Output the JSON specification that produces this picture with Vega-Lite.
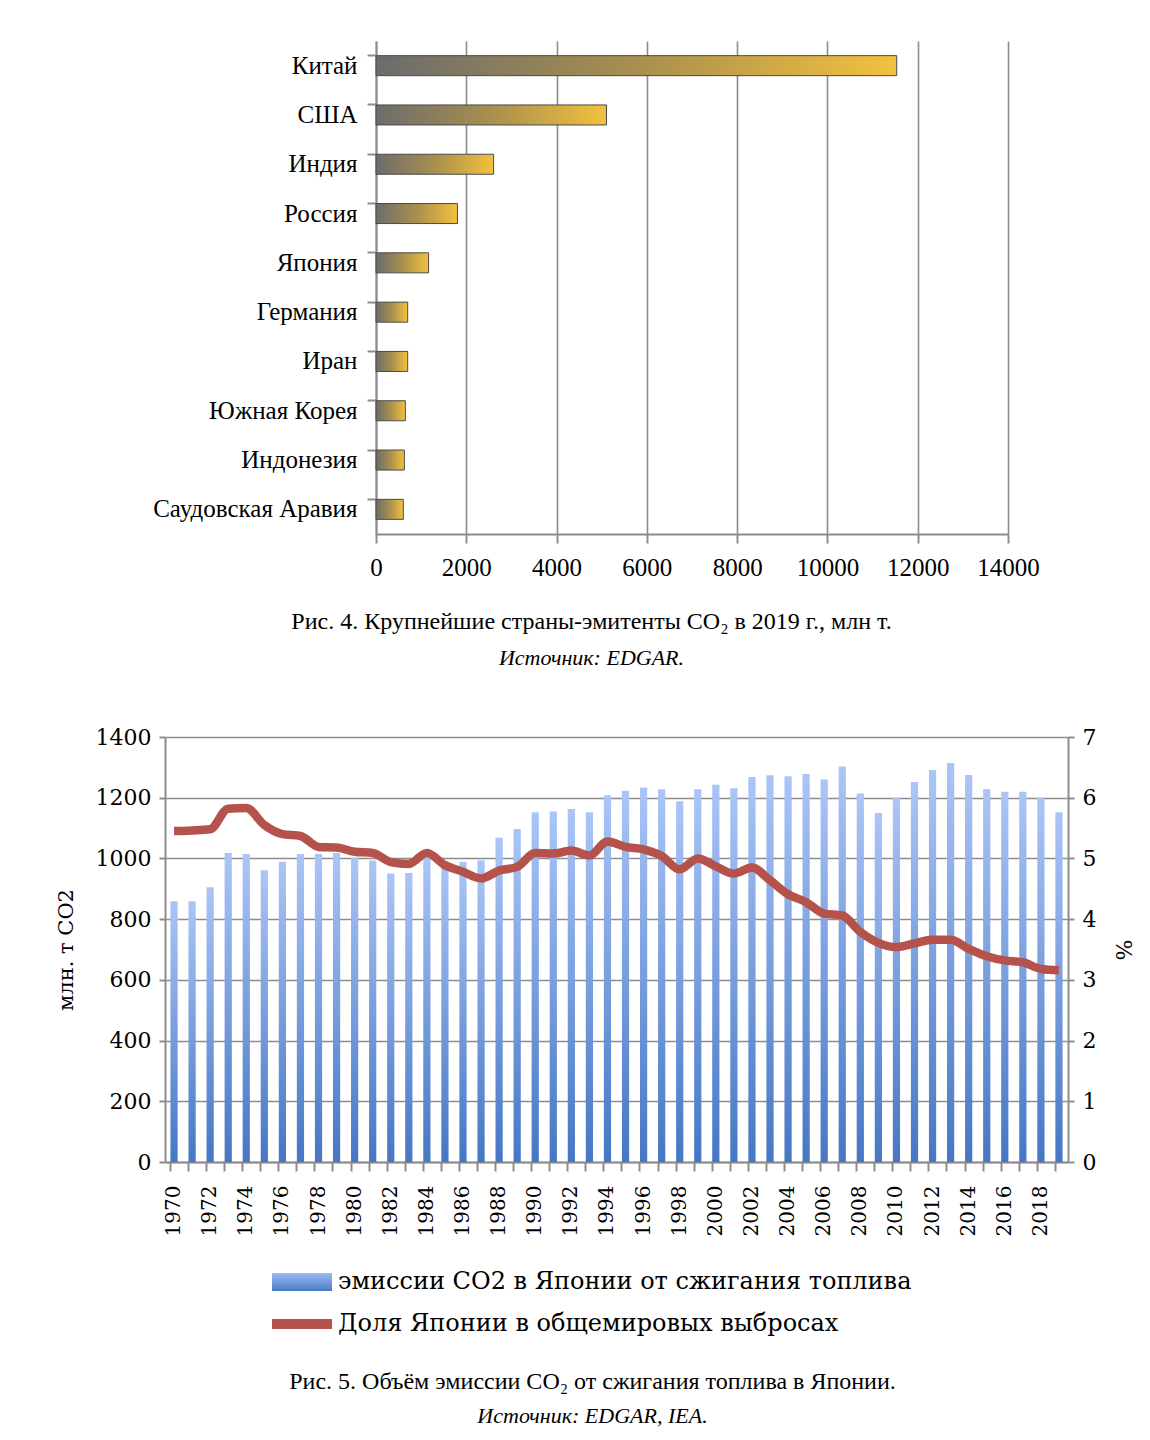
{
  "$schema": "https://vega.github.io/schema/vega-lite/v6.json",
  "background": "white",
  "padding": {"left": 55, "top": 41, "right": 0, "bottom": 0},
  "config": {
    "font": "Liberation Serif",
    "view": {"stroke": null},
    "axis": {"labelColor": "black", "titleColor": "black", "domainColor": "#8c8c8c", "tickColor": "#8c8c8c", "gridColor": "#8c8c8c", "domainWidth": 2, "tickWidth": 2, "gridWidth": 1.6, "titleFontWeight": "normal"}
  },
  "spacing": 57,
  "resolve": {"scale": {"color": "independent"}, "legend": {"color": "independent"}},
  "vconcat": [
    {
      "width": 843,
      "height": 493,
      "data": {"values": [
        {"country": "Китай", "value": 11535},
        {"country": "США", "value": 5105},
        {"country": "Индия", "value": 2605},
        {"country": "Россия", "value": 1805},
        {"country": "Япония", "value": 1165},
        {"country": "Германия", "value": 702},
        {"country": "Иран", "value": 702},
        {"country": "Южная Корея", "value": 650},
        {"country": "Индонезия", "value": 628},
        {"country": "Саудовская Аравия", "value": 605}
      ]},
      "mark": {
        "type": "bar",
        "fill": {"gradient": "linear", "x1": 0, "y1": 0, "x2": 1, "y2": 0, "stops": [{"offset": 0, "color": "#6c6c6c"}, {"offset": 0.5, "color": "#a88f4e"}, {"offset": 1, "color": "#f3c13e"}]},
        "stroke": "#4a4a4a",
        "strokeWidth": 1
      },
      "encoding": {
        "y": {
          "field": "country", "type": "nominal", "sort": null,
          "scale": {"paddingInner": 0.594, "paddingOuter": 0.297},
          "axis": {"title": null, "bandPosition": 0, "offset": -211, "tickSize": 9, "labelFontSize": 25, "labelPadding": 10, "labelLimit": 400, "grid": false, "labelFont": "Liberation Serif"}
        },
        "x": {
          "field": "value", "type": "quantitative",
          "scale": {"domain": [0, 14000], "nice": false, "range": [211, 843]},
          "axis": {"title": null, "values": [0, 2000, 4000, 6000, 8000, 10000, 12000, 14000], "grid": true, "tickSize": 9, "labelFontSize": 25, "labelPadding": 12, "format": "d", "labelFont": "Liberation Serif", "labelFlush": false}
        }
      },
      "title": {
        "text": "Рис. 4. Крупнейшие страны-эмитенты CO₂ в 2019 г., млн т.",
        "subtitle": "Источник: EDGAR.",
        "orient": "bottom",
        "anchor": "middle",
        "dx": 5,
        "offset": 30,
        "font": "Liberation Serif",
        "fontSize": 24,
        "fontWeight": "normal",
        "color": "black",
        "subtitleFont": "Liberation Serif",
        "subtitleFontSize": 22,
        "subtitleFontStyle": "italic",
        "subtitleColor": "black",
        "subtitlePadding": 14
      }
    },
    {
      "width": 903,
      "height": 425,
      "data": {"values": [
        {"year": "1970", "emissions": 859, "share": 5.45},
        {"year": "1971", "emissions": 859, "share": 5.46},
        {"year": "1972", "emissions": 905, "share": 5.48},
        {"year": "1973", "emissions": 1018, "share": 5.82},
        {"year": "1974", "emissions": 1015, "share": 5.83},
        {"year": "1975", "emissions": 961, "share": 5.55},
        {"year": "1976", "emissions": 989, "share": 5.40},
        {"year": "1977", "emissions": 1015, "share": 5.37},
        {"year": "1978", "emissions": 1015, "share": 5.19},
        {"year": "1979", "emissions": 1018, "share": 5.18},
        {"year": "1980", "emissions": 1002, "share": 5.11},
        {"year": "1981", "emissions": 993, "share": 5.09},
        {"year": "1982", "emissions": 950, "share": 4.94},
        {"year": "1983", "emissions": 952, "share": 4.91},
        {"year": "1984", "emissions": 1005, "share": 5.09},
        {"year": "1985", "emissions": 985, "share": 4.89},
        {"year": "1986", "emissions": 989, "share": 4.78},
        {"year": "1987", "emissions": 994, "share": 4.67},
        {"year": "1988", "emissions": 1068, "share": 4.80},
        {"year": "1989", "emissions": 1097, "share": 4.86},
        {"year": "1990", "emissions": 1152, "share": 5.09},
        {"year": "1991", "emissions": 1155, "share": 5.08},
        {"year": "1992", "emissions": 1163, "share": 5.13},
        {"year": "1993", "emissions": 1152, "share": 5.05},
        {"year": "1994", "emissions": 1208, "share": 5.28},
        {"year": "1995", "emissions": 1223, "share": 5.19},
        {"year": "1996", "emissions": 1234, "share": 5.15},
        {"year": "1997", "emissions": 1228, "share": 5.04},
        {"year": "1998", "emissions": 1188, "share": 4.82},
        {"year": "1999", "emissions": 1228, "share": 5.00},
        {"year": "2000", "emissions": 1243, "share": 4.87},
        {"year": "2001", "emissions": 1231, "share": 4.75},
        {"year": "2002", "emissions": 1268, "share": 4.85},
        {"year": "2003", "emissions": 1274, "share": 4.64},
        {"year": "2004", "emissions": 1271, "share": 4.41},
        {"year": "2005", "emissions": 1278, "share": 4.28},
        {"year": "2006", "emissions": 1260, "share": 4.09},
        {"year": "2007", "emissions": 1303, "share": 4.06},
        {"year": "2008", "emissions": 1214, "share": 3.79},
        {"year": "2009", "emissions": 1150, "share": 3.61},
        {"year": "2010", "emissions": 1200, "share": 3.54},
        {"year": "2011", "emissions": 1252, "share": 3.60},
        {"year": "2012", "emissions": 1291, "share": 3.66},
        {"year": "2013", "emissions": 1314, "share": 3.66},
        {"year": "2014", "emissions": 1275, "share": 3.51},
        {"year": "2015", "emissions": 1229, "share": 3.39},
        {"year": "2016", "emissions": 1220, "share": 3.32},
        {"year": "2017", "emissions": 1220, "share": 3.29},
        {"year": "2018", "emissions": 1200, "share": 3.18},
        {"year": "2019", "emissions": 1152, "share": 3.16}
      ]},
      "encoding": {
        "x": {
          "field": "year", "type": "ordinal",
          "scale": {"paddingInner": 0.6, "paddingOuter": 0.3},
          "axis": {"title": null, "labelAngle": -90, "bandPosition": 0, "labelExpr": "toNumber(datum.label) % 2 == 0 ? datum.label : ''", "tickSize": 9, "labelPadding": 14, "labelFontSize": 20, "labelFont": "DejaVu Serif", "grid": false}
        }
      },
      "layer": [
        {
          "mark": {
            "type": "bar",
            "fill": {"gradient": "linear", "x1": 0, "y1": 0, "x2": 0, "y2": 1, "stops": [{"offset": 0, "color": "#abc5f7"}, {"offset": 1, "color": "#4677c4"}]}
          },
          "encoding": {
            "y": {
              "field": "emissions", "type": "quantitative",
              "scale": {"domain": [0, 1400], "nice": false},
              "axis": {"title": "млн. т CO2", "values": [0, 200, 400, 600, 800, 1000, 1200, 1400], "format": "d", "grid": true, "tickSize": 6, "labelFontSize": 22, "labelFont": "DejaVu Serif", "labelPadding": 8, "titleFont": "DejaVu Serif", "titleFontSize": 21, "titlePadding": 19}
            }
          }
        },
        {
          "mark": {"type": "line", "strokeWidth": 8.5, "interpolate": "monotone", "strokeCap": "butt"},
          "encoding": {
            "y": {
              "field": "share", "type": "quantitative",
              "scale": {"domain": [0, 7], "nice": false},
              "axis": {"orient": "right", "title": "%", "values": [0, 1, 2, 3, 4, 5, 6, 7], "grid": false, "tickSize": 6, "labelFontSize": 22, "labelFont": "DejaVu Serif", "labelPadding": 8, "titleFont": "DejaVu Serif", "titleFontSize": 22, "titlePadding": 15}
            },
            "color": {
              "datum": "Доля Японии в общемировых выбросах",
              "type": "nominal",
              "scale": {"domain": ["эмиссии CO2 в Японии от сжигания топлива", "Доля Японии в общемировых выбросах"], "range": ["#6f97dc", "#b5524c"]},
              "legend": {
                "orient": "none",
                "legendX": 107,
                "legendY": 515,
                "title": null,
                "symbolType": "M-1,-0.3H1V0.3H-1Z",
                "symbolSize": 3600,
                "labelFont": "DejaVu Serif",
                "labelFontSize": 24,
                "labelColor": "black",
                "labelLimit": 900,
                "labelOffset": 6,
                "rowPadding": -5,
                "encode": {
                  "symbols": {
                    "update": {
                      "shape": [{"test": "datum.value === 'Доля Японии в общемировых выбросах'", "value": "M-1,-0.17H1V0.17H-1Z"}, {"value": "M-1,-0.3H1V0.3H-1Z"}],
                      "fill": [{"test": "datum.value === 'Доля Японии в общемировых выбросах'", "value": "#b5524c"}, {"value": {"gradient": "linear", "x1": 0, "y1": 0, "x2": 0, "y2": 1, "stops": [{"offset": 0, "color": "#9dbaf2"}, {"offset": 1, "color": "#4a7bc6"}]}}],
                      "stroke": {"value": "transparent"},
                      "strokeWidth": {"value": 0},
                      "opacity": {"value": 1}
                    }
                  }
                }
              }
            }
          }
        }
      ],
      "resolve": {"scale": {"y": "independent"}},
      "title": {
        "text": "Рис. 5. Объём эмиссии CO₂ от сжигания топлива в Японии.",
        "subtitle": "Источник: EDGAR, IEA.",
        "orient": "bottom",
        "anchor": "middle",
        "dx": -24,
        "offset": 34,
        "font": "Liberation Serif",
        "fontSize": 24,
        "fontWeight": "normal",
        "color": "black",
        "subtitleFont": "Liberation Serif",
        "subtitleFontSize": 22,
        "subtitleFontStyle": "italic",
        "subtitleColor": "black",
        "subtitlePadding": 12
      }
    }
  ]
}
